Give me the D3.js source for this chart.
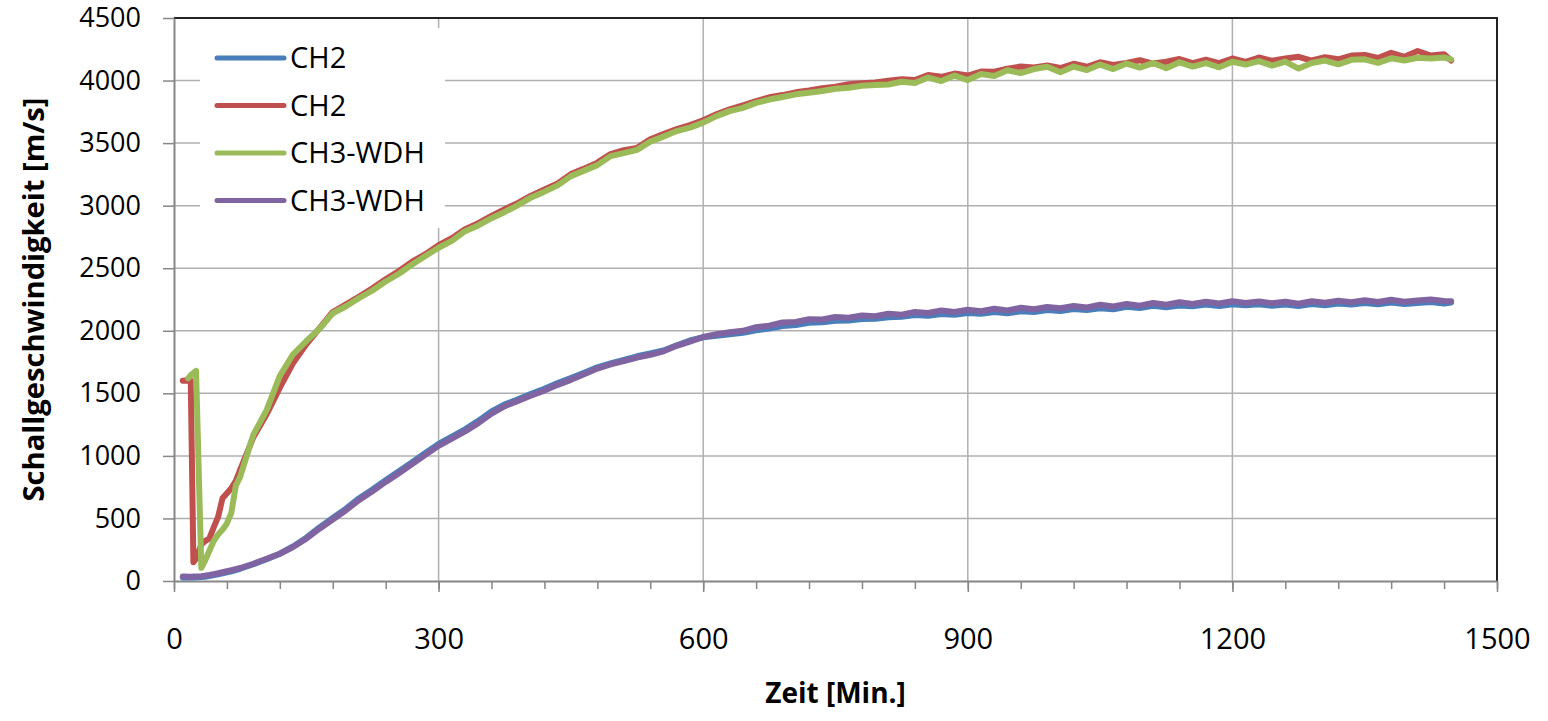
<!DOCTYPE html>
<html>
<head>
<meta charset="utf-8">
<script src="https://cdn.jsdelivr.net/npm/d3@7"></script>
<style>
    body { margin: 0; background: #fff; }
    text { font-family: "Open Sans", sans-serif; fill: #000; }
</style>
</head>
<body>
<svg id="chart"></svg>
<script>
// Zeit in Minuten
const zeit = [10, 13, 16, 19, 22, 25, 31, 35, 40, 45, 50, 55, 60, 65, 70, 75,
    90, 105, 120, 135, 150, 165, 180, 195, 210, 225, 240, 255,
    270, 285, 300, 315, 330, 345, 360, 375, 390, 405, 420, 435,
    450, 465, 480, 495, 510, 525, 540, 555, 570, 585, 600, 615,
    630, 645, 660, 675, 690, 705, 720, 735, 750, 765, 780, 795,
    810, 825, 840, 855, 870, 885, 900, 915, 930, 945, 960, 975,
    990, 1005, 1020, 1035, 1050, 1065, 1080, 1095, 1110, 1125, 1140, 1155,
    1170, 1185, 1200, 1215, 1230, 1245, 1260, 1275, 1290, 1305, 1320, 1335,
    1350, 1365, 1380, 1395, 1410, 1425, 1440, 1448];

const ch2Blau = [28, 27, 27, 27, 28, 29, 31, 34, 40, 47, 54, 62, 70, 78, 88, 98,
    134, 174, 218, 276, 346, 428, 504, 578, 662, 732, 806, 878,
    950, 1024, 1096, 1154, 1212, 1280, 1356, 1412, 1452, 1496, 1536, 1582,
    1622, 1664, 1708, 1740, 1768, 1796, 1818, 1842, 1884, 1922, 1948, 1960,
    1972, 1984, 2004, 2018, 2038, 2046, 2064, 2068, 2080, 2082, 2094, 2096,
    2108, 2112, 2126, 2120, 2134, 2128, 2142, 2136, 2150, 2140, 2156, 2150,
    2166, 2158, 2174, 2166, 2180, 2172, 2192, 2182, 2200, 2188, 2202, 2196,
    2210, 2198, 2212, 2204, 2212, 2200, 2210, 2198, 2214, 2204, 2218, 2210,
    2222, 2212, 2226, 2214, 2222, 2230, 2218, 2226];

const ch2Rot = [1600, 1602, 1600, 1600, 150, 178, 292, 318, 338, 428, 512, 662, 702, 742, 798, 888,
    1150, 1332, 1546, 1742, 1892, 2020, 2150, 2212, 2274, 2340, 2412, 2478,
    2552, 2612, 2684, 2740, 2812, 2860, 2918, 2972, 3022, 3080, 3130, 3178,
    3252, 3296, 3344, 3412, 3444, 3462, 3530, 3572, 3612, 3644, 3682, 3730,
    3770, 3802, 3836, 3866, 3884, 3906, 3920, 3938, 3950, 3970, 3978, 3984,
    3998, 4010, 4004, 4044, 4030, 4056, 4040, 4072, 4070, 4094, 4112, 4104,
    4120, 4100, 4134, 4110, 4146, 4124, 4140, 4162, 4136, 4150, 4172, 4140,
    4166, 4140, 4176, 4150, 4184, 4158, 4176, 4190, 4160, 4186, 4170, 4200,
    4204, 4180, 4222, 4190, 4236, 4200, 4210, 4160];

const ch3Gruen = [null, null, 1620, 1645, 1662, 1680, 105, 160, 240, 320, 372, 410, 460, 545, 760, 832,
    1170, 1366, 1640, 1812, 1918, 2016, 2140, 2196, 2262, 2322, 2394, 2456,
    2530, 2598, 2664, 2718, 2796, 2842, 2900, 2950, 3004, 3066, 3112, 3162,
    3236, 3280, 3324, 3396, 3420, 3446, 3512, 3552, 3596, 3624, 3664, 3716,
    3756, 3782, 3822, 3848, 3868, 3890, 3902, 3916, 3934, 3942, 3958, 3964,
    3968, 3990, 3980, 4024, 3996, 4040, 4004, 4052, 4036, 4082, 4060, 4092,
    4110, 4066, 4112, 4084, 4128, 4092, 4136, 4104, 4140, 4098, 4146, 4112,
    4140, 4106, 4150, 4128, 4156, 4120, 4152, 4096, 4140, 4160, 4130, 4166,
    4170, 4142, 4178, 4160, 4182, 4176, 4184, 4170];

const ch3Lila = [36, 35, 34, 34, 35, 36, 39, 42, 48, 55, 62, 70, 78, 86, 95, 104,
    138, 178, 218, 272, 338, 418, 492, 566, 648, 718, 792, 862,
    935, 1008, 1080, 1138, 1196, 1262, 1338, 1398, 1440, 1482, 1522, 1568,
    1608, 1652, 1698, 1732, 1758, 1786, 1808, 1836, 1880, 1914, 1950, 1972,
    1988, 2000, 2028, 2040, 2066, 2070, 2092, 2090, 2110, 2104, 2122, 2116,
    2136, 2128, 2150, 2142, 2162, 2150, 2168, 2156, 2176, 2162, 2184, 2172,
    2190, 2180, 2198, 2186, 2208, 2194, 2214, 2200, 2222, 2208, 2228, 2214,
    2232, 2218, 2236, 2222, 2234, 2220, 2232, 2216, 2236, 2224, 2240, 2228,
    2244, 2230, 2248, 2232, 2242, 2250, 2238, 2236];

const serienNamen = ["CH2", "CH2", "CH3-WDH", "CH3-WDH"];
const serienFarben = ["#4a7ebb", "#c0504d", "#9bbb59", "#8064a2"];
const serienWerte = [ch2Blau, ch2Rot, ch3Gruen, ch3Lila];

const xTicks = [0, 300, 600, 900, 1200, 1500];
const xMinorTicks = d3.range(0, 1501, 60);
const yTicks = [0, 500, 1000, 1500, 2000, 2500, 3000, 3500, 4000, 4500];

const width = 1548, height = 721;
const margin = { left: 174, right: 51, top: 18, bottom: 140 };

const svg = d3.select("#chart")
    .attr("width", width)
    .attr("height", height);

svg.append("rect").attr("width", width).attr("height", height).attr("fill", "#fff");

var x = d3.scaleLinear().domain([0, 1500]).range([margin.left, width - margin.right]);
var y = d3.scaleLinear().domain([0, 4500]).range([height - margin.bottom, margin.top]);

// gridlines
svg.append("g")
    .selectAll("line")
    .data(yTicks.filter(d => d > 0 && d < 4500))
    .enter()
    .append("line")
    .attr("x1", x(0)).attr("x2", x(1500))
    .attr("y1", d => y(d)).attr("y2", d => y(d))
    .attr("stroke", "#b0b0b0")
    .attr("stroke-width", 1.5);

svg.append("g")
    .selectAll("line")
    .data(xTicks.filter(d => d > 0 && d < 1500))
    .enter()
    .append("line")
    .attr("x1", d => x(d)).attr("x2", d => x(d))
    .attr("y1", y(0)).attr("y2", y(4500))
    .attr("stroke", "#b0b0b0")
    .attr("stroke-width", 1.5);

// top/right border
svg.append("path")
    .attr("d", `M${x(0)},${y(4500)}H${x(1500)}V${y(0)}`)
    .attr("fill", "none")
    .attr("stroke", "#222")
    .attr("stroke-width", 2);

// minor x ticks
svg.append("g")
    .attr("transform", `translate(0,${y(0)})`)
    .call(d3.axisBottom(x).tickValues(xMinorTicks).tickSize(8).tickFormat(""))
    .call(g => g.select(".domain").remove())
    .call(g => g.selectAll("line").attr("stroke", "#868686").attr("stroke-width", 1.5));

var xAxis = svg.append("g")
    .attr("transform", `translate(0,${y(0)})`)
    .call(d3.axisBottom(x).tickValues(xTicks).tickFormat(d3.format("d"))
        .tickSizeInner(11).tickSizeOuter(0).tickPadding(36));
xAxis.selectAll("line").attr("stroke", "#868686").attr("stroke-width", 1.5);
xAxis.select(".domain").attr("stroke", "#868686").attr("stroke-width", 2);
xAxis.selectAll("text").style("font-size", "29px").style("font-family", "Open Sans");

var yAxis = svg.append("g")
    .attr("transform", `translate(${x(0)},0)`)
    .call(d3.axisLeft(y).tickValues(yTicks).tickFormat(d3.format("d"))
        .tickSizeInner(11).tickSizeOuter(0).tickPadding(22));
yAxis.selectAll("line").attr("stroke", "#868686").attr("stroke-width", 1.5);
yAxis.select(".domain").attr("stroke", "#868686").attr("stroke-width", 2);
yAxis.selectAll("text").style("font-size", "27px").style("font-family", "Open Sans");

// axis titles
svg.append("text")
    .attr("transform", `translate(44,${(y(0) + y(4500)) / 2}) rotate(-90)`)
    .attr("text-anchor", "middle")
    .attr("textLength", 404)
    .attr("lengthAdjust", "spacingAndGlyphs")
    .style("font-size", "28px")
    .style("font-weight", "bold")
    .text("Schallgeschwindigkeit [m/s]");

svg.append("text")
    .attr("x", (x(0) + x(1500)) / 2)
    .attr("y", 703)
    .attr("text-anchor", "middle")
    .style("font-size", "28px")
    .style("font-weight", "bold")
    .text("Zeit [Min.]");

// lines
const line = d3.line()
    .defined(d => d[1] != null)
    .x(d => x(d[0]))
    .y(d => y(d[1]));

serienWerte.forEach(function (werte, i) {
    svg.append("path")
        .datum(zeit.map((t, j) => [t, werte[j]]))
        .attr("fill", "none")
        .attr("stroke", serienFarben[i])
        .attr("stroke-width", 6)
        .attr("stroke-linejoin", "round")
        .attr("stroke-linecap", "round")
        .attr("d", line);
});

// legend
var legend = svg.append("g");
legend.append("rect")
    .attr("x", 200).attr("y", 28)
    .attr("width", 245).attr("height", 200)
    .attr("fill", "#fff");

var items = legend.selectAll("g.item")
    .data(serienNamen)
    .enter()
    .append("g")
    .attr("class", "item")
    .attr("transform", (d, i) => `translate(0,${58 + i * 47.5})`);

items.append("line")
    .attr("x1", 217).attr("x2", 284)
    .attr("stroke", (d, i) => serienFarben[i])
    .attr("stroke-width", 5)
    .attr("stroke-linecap", "round");

items.append("text")
    .attr("x", 290)
    .attr("dy", "0.36em")
    .style("font-size", "29px")
    .text(d => d);
</script>
</body>
</html>
